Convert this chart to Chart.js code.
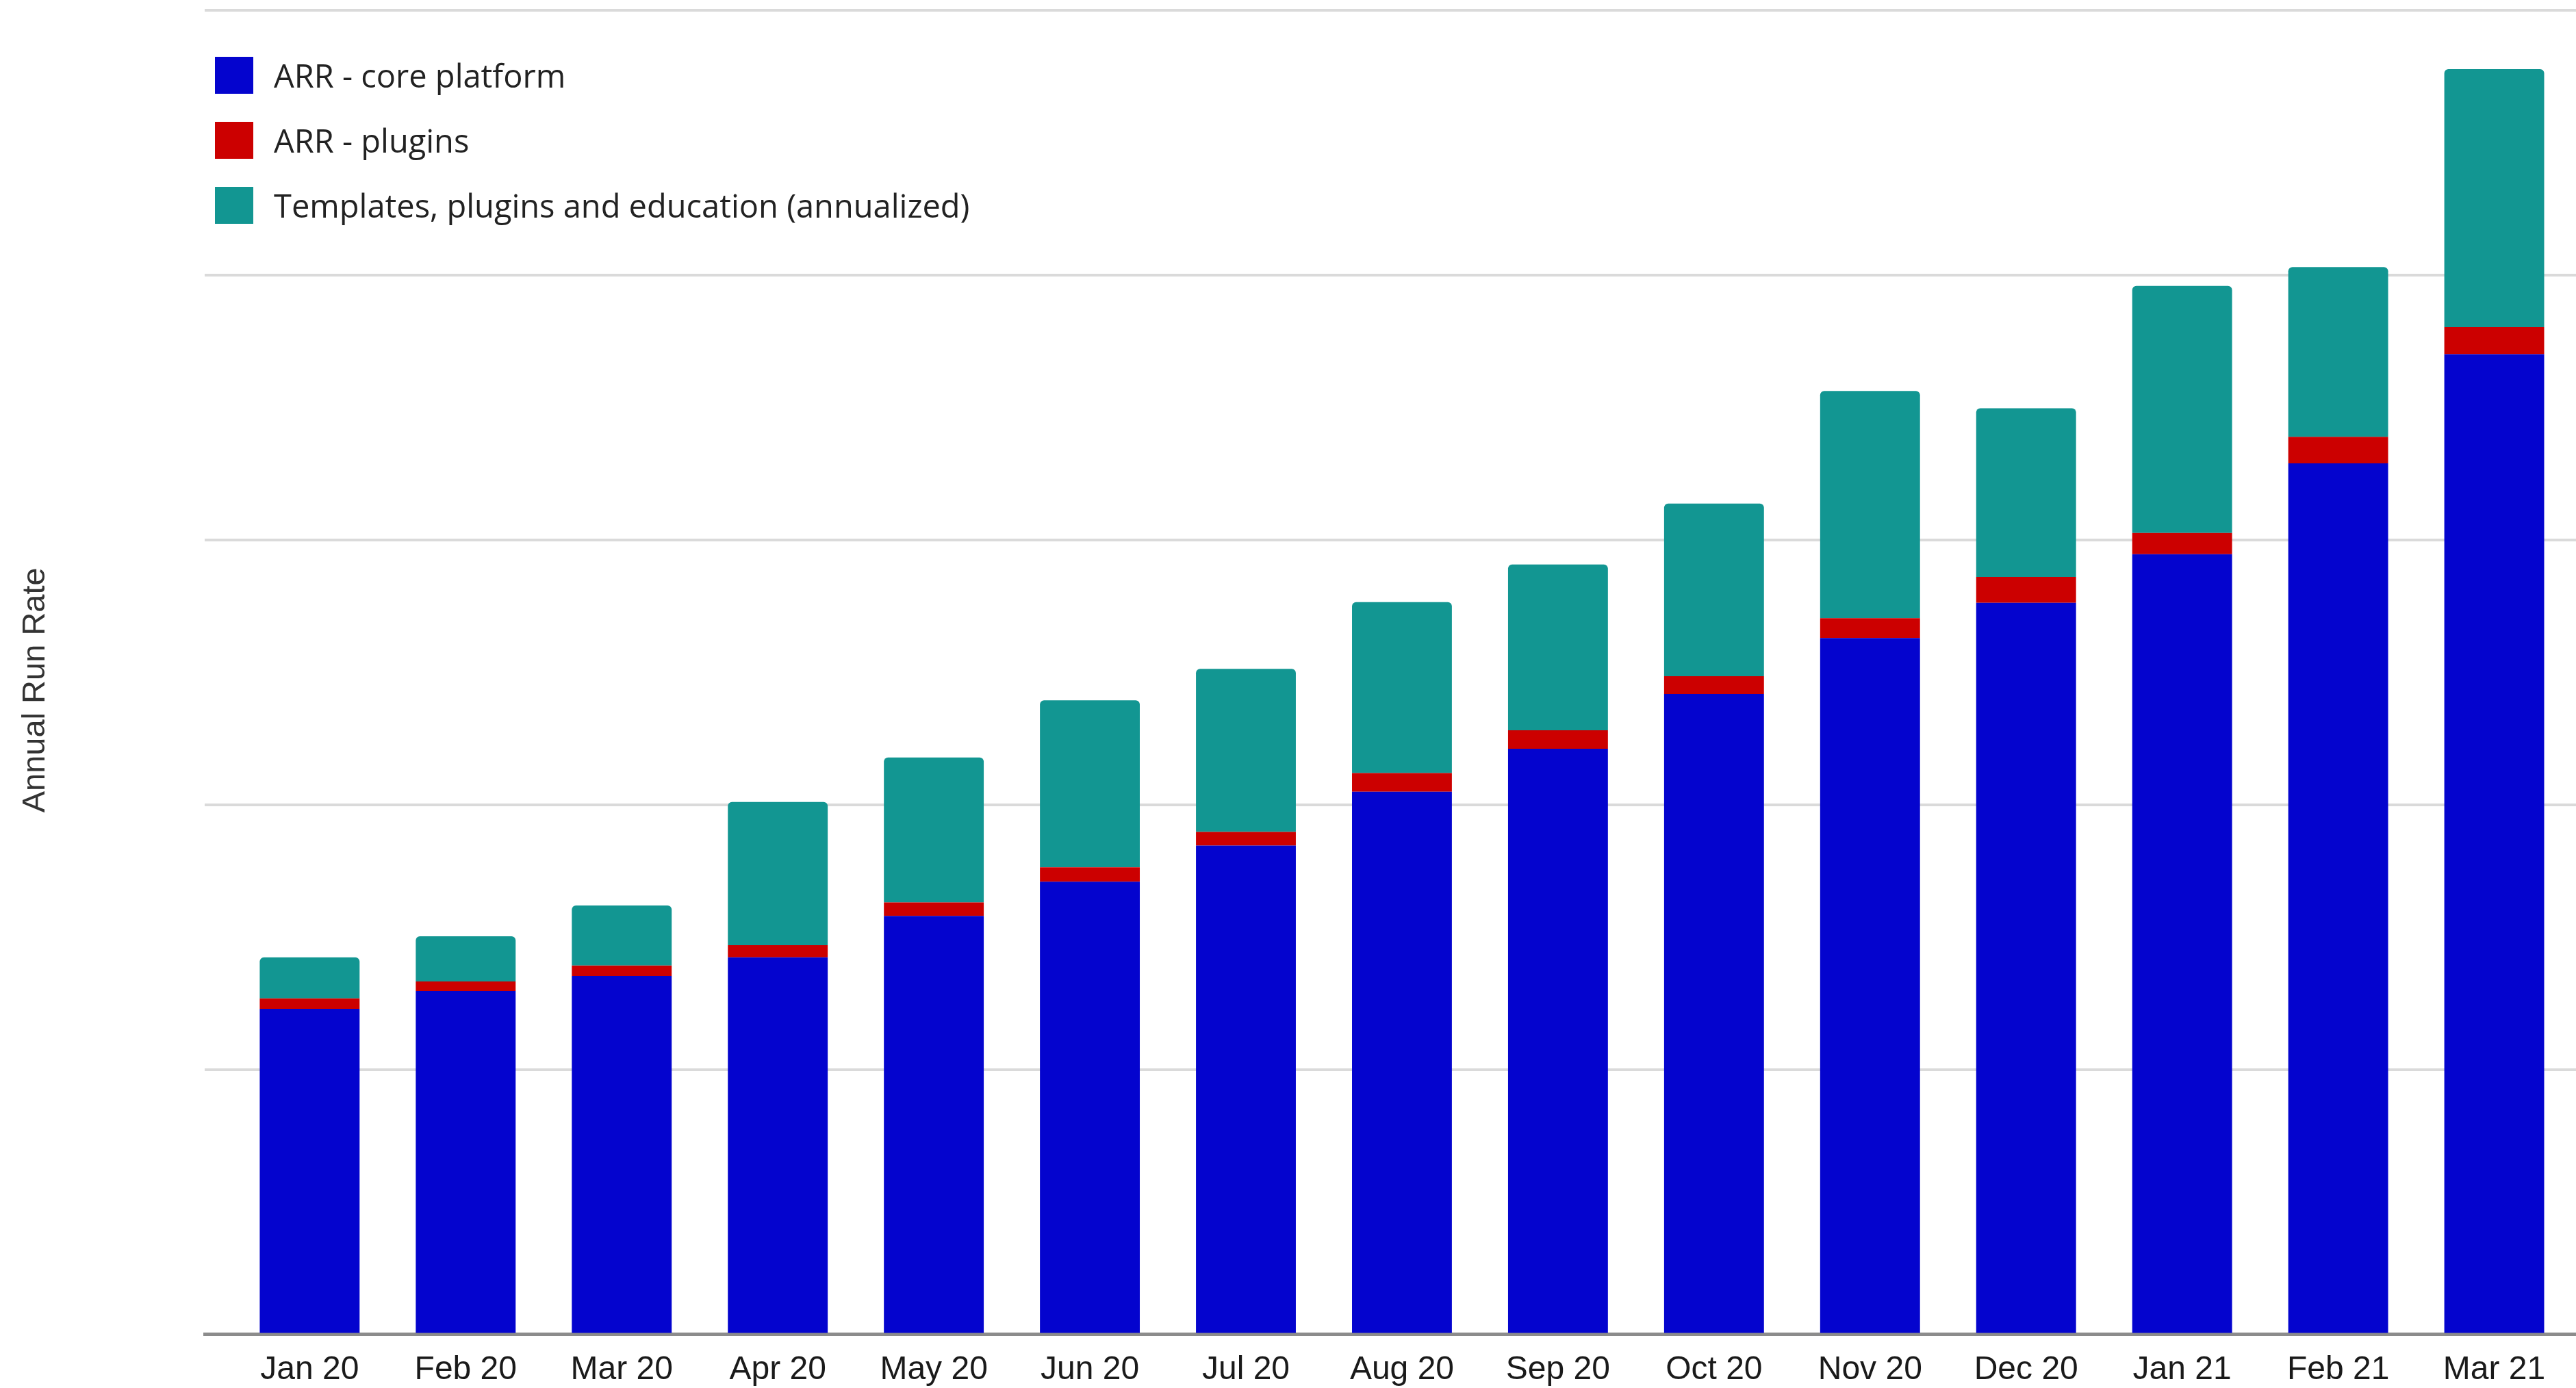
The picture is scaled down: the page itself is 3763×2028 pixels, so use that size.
<!DOCTYPE html>
<html>
<head>
<meta charset="utf-8">
<script src="https://cdn.jsdelivr.net/npm/chart.js@4.4.1/dist/chart.umd.min.js"></script>
<style>
  body { margin: 0; background: #fff; }
  #wrap { position: relative; width: 3763px; height: 2028px; }
  #legend { position: absolute; left: 314px; top: 82px; font-family: "Open Sans", sans-serif; font-size: 47px; color: #222; }
  .item { display: flex; align-items: center; height: 56px; margin-bottom: 39px; white-space: nowrap; }
  .swatch { width: 56px; height: 54px; margin-right: 30px; flex: none; }
</style>
</head>
<body>
<div id="wrap">
  <canvas id="arrChart" width="3763" height="2028"></canvas>
  <div id="legend"></div>
</div>
<script>
// months on the x axis
const months = ["Jan 20", "Feb 20", "Mar 20", "Apr 20", "May 20", "Jun 20", "Jul 20", "Aug 20",
  "Sep 20", "Oct 20", "Nov 20", "Dec 20", "Jan 21", "Feb 21", "Mar 21"];

// stacked segments (1 unit = 1/10 of a gridline step)
const arrCore = [12.29, 12.96, 13.53, 14.23, 15.80, 17.09, 18.45, 20.49, 22.11, 24.18, 26.29, 27.62, 29.46, 32.89, 37.01];
const arrPlugins = [0.39, 0.36, 0.39, 0.46, 0.51, 0.54, 0.52, 0.70, 0.70, 0.67, 0.75, 0.98, 0.80, 1.00, 1.02];
const templatesEdu = [1.55, 1.71, 2.27, 5.41, 5.47, 6.31, 6.16, 6.46, 6.26, 6.52, 8.58, 6.37, 9.33, 6.41, 9.75];

const seriesNames = ["ARR - core platform", "ARR - plugins", "Templates, plugins and education (annualized)"];
const seriesColors = ["#0404CE", "#CC0000", "#129692"];

const yTickValues = [0, 10, 20, 30, 40, 50];

function toPoints(arr) {
  return arr.map((v, i) => ({ x: i, y: v }));
}

const datasets = [arrCore, arrPlugins, templatesEdu].map((arr, i) => ({
  label: seriesNames[i],
  data: toPoints(arr),
  backgroundColor: seriesColors[i],
  borderWidth: 0,
  categoryPercentage: 1,
  barPercentage: 0.64,
  borderRadius: i == 2 ? { topLeft: 6, topRight: 6, bottomLeft: 0, bottomRight: 0 } : 0,
}));

new Chart(document.getElementById("arrChart"), {
  type: "bar",
  data: { datasets: datasets },
  options: {
    responsive: false,
    animation: false,
    layout: { padding: { top: 15, right: 0, bottom: -27, left: 0 } },
    plugins: {
      legend: { display: false },
      tooltip: { enabled: false },
    },
    scales: {
      x: {
        type: "linear",
        stacked: true,
        offset: false,
        min: -0.671,
        max: 14.524,
        grid: { display: false, drawTicks: false },
        border: { display: true, color: "#8c8c8c", width: 5 },
        ticks: {
          stepSize: 1,
          includeBounds: false,
          autoSkip: false,
          maxRotation: 0,
          padding: 24,
          color: "#1a1a1a",
          font: { family: "Liberation Sans", size: 48 },
          callback: (v) => Number.isInteger(v) && months[v] ? months[v] : "",
        },
      },
      y: {
        stacked: true,
        min: yTickValues[0],
        max: yTickValues[yTickValues.length - 1],
        afterBuildTicks: (scale) => { scale.ticks = yTickValues.map(v => ({ value: v })); },
        grid: { color: "#dadada", lineWidth: 4, drawTicks: false },
        border: { display: false },
        ticks: { display: false },
        title: {
          display: true,
          // trailing spaces nudge the rotated title a bit lower, like the original
          text: "Annual Run Rate    ",
          color: "#333",
          font: { family: "Liberation Sans", size: 47 },
          padding: { top: 24, bottom: 219 },
        },
      },
    },
  },
});

// legend: vertical list in the top-left corner
const legendEl = document.getElementById("legend");
seriesNames.forEach((name, i) => {
  legendEl.insertAdjacentHTML("beforeend",
    `<div class="item"><div class="swatch" style="background:${seriesColors[i]}"></div><span>${name}</span></div>`);
});
</script>
</body>
</html>
